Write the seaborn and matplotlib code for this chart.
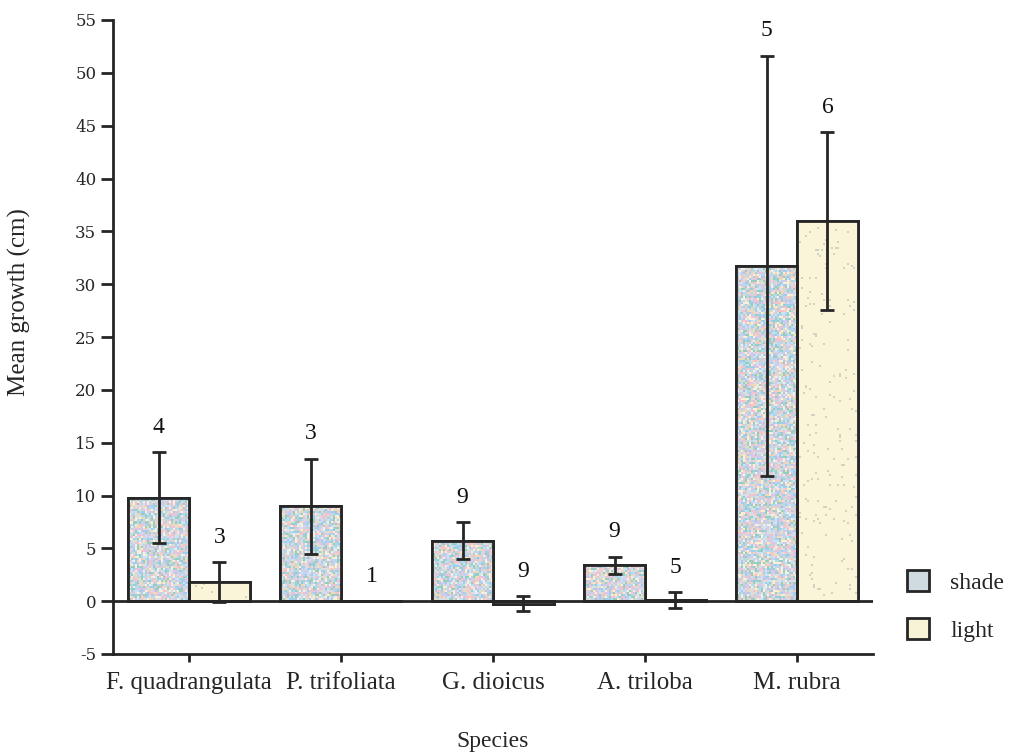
import numpy as np
import pandas as pd
import matplotlib
matplotlib.use("Agg")
import matplotlib.pyplot as plt
import seaborn as sns
from matplotlib.patches import Rectangle, Patch

species = ["F. quadrangulata", "P. trifoliata", "G. dioicus", "A. triloba", "M. rubra"]
shade_mean = [9.8, 9.0, 5.7, 3.4, 31.7]
shade_se = [4.3, 4.5, 1.75, 0.8, 19.9]
shade_n = [4, 3, 9, 9, 5]
light_mean = [1.8, 0.0, -0.25, 0.1, 36.0]
light_se = [1.9, np.nan, 0.7, 0.75, 8.4]
light_n = [3, 1, 9, 5, 6]
conditions = ["shade", "light"]

df = pd.DataFrame({
    "Species": species * 2,
    "Condition": ["shade"] * len(species) + ["light"] * len(species),
    "Mean": shade_mean + light_mean,
    "SE": shade_se + light_se,
    "N": shade_n + light_n,
})

ink = "#262626"
shade_col = "#cfdbe0"
light_col = "#f8f3d6"

sns.set_style("white")
plt.rcParams["font.family"] = ["Liberation Serif", "DejaVu Serif"]

fig = plt.figure(figsize=(10.13, 7.53), dpi=100)
ax = fig.add_axes([113 / 1013, 1 - 654 / 753, 760 / 1013, 634 / 753])

sns.barplot(data=df, x="Species", y="Mean", hue="Condition", order=species,
            hue_order=conditions, palette=[shade_col, light_col], errorbar=None,
            width=0.8, edgecolor=ink, linewidth=2, ax=ax, legend=False, zorder=2)

ax.set_xlim(-0.5, 4.5)
ax.set_ylim(-5, 55)

# speckled fill texture for each bar
rng = np.random.default_rng(7)
H, W = 317, 380
shade_palette = np.array([[160, 206, 236], [246, 192, 204], [148, 206, 190],
                          [250, 240, 218], [214, 200, 232], [206, 226, 244],
                          [236, 218, 186], [182, 218, 236]]) / 255.0
shade_tex = shade_palette[rng.integers(0, len(shade_palette), size=(H, W))]
light_tex = np.ones((H, W, 3)) * np.array([250, 245, 216]) / 255.0
dots = rng.random((H, W)) < 0.035
light_tex[dots] = np.array([210, 210, 195]) / 255.0
textures = {"shade": shade_tex, "light": light_tex}

for cond, cont in zip(conditions, ax.containers):
    for bar in cont:
        img = ax.imshow(textures[cond], extent=(-0.5, 4.5, -5, 55), aspect="auto",
                        interpolation="nearest", zorder=2.1, origin="lower")
        img.set_clip_path(bar)
        ax.add_patch(Rectangle((bar.get_x(), bar.get_y()), bar.get_width(),
                               bar.get_height(), fill=False, edgecolor=ink,
                               linewidth=2, zorder=2.2))

ax.axhline(0, color=ink, linewidth=2, zorder=2.3)

# standard-error bars and sample sizes
for cond, cont in zip(conditions, ax.containers):
    sub = df[df["Condition"] == cond].set_index("Species").loc[species]
    for bar, (_, row) in zip(cont, sub.iterrows()):
        xc = bar.get_x() + bar.get_width() / 2
        top = row["Mean"]
        if not np.isnan(row["SE"]):
            ax.errorbar(xc, row["Mean"], yerr=row["SE"], fmt="none", ecolor=ink,
                        elinewidth=2, capsize=5, capthick=2, zorder=3)
            top = row["Mean"] + row["SE"]
        top = max(top, 0)
        ax.annotate(str(int(row["N"])), (xc, top), xytext=(0, 18),
                    textcoords="offset points", ha="center", va="center",
                    fontsize=17, color="#111111")

for side in ["top", "right"]:
    ax.spines[side].set_visible(False)
for side in ["left", "bottom"]:
    ax.spines[side].set_color(ink)
    ax.spines[side].set_linewidth(2)

ax.set_yticks(np.arange(-5, 56, 5))
ax.set_yticklabels([str(v) for v in range(-5, 56, 5)], fontfamily="DejaVu Serif",
                   fontsize=12)
ax.tick_params(axis="y", direction="out", length=9, width=2, color=ink, pad=3, left=True)
ax.tick_params(axis="x", direction="out", length=6, width=2, color=ink, pad=7,
               labelsize=18, bottom=True)

ax.set_xlabel("Species", fontsize=17)
ax.set_ylabel("Mean growth (cm)", fontsize=18)
ax.xaxis.set_label_coords(0.5, -0.122)
ax.yaxis.set_label_coords(-0.108, 0.555)

handles = [Patch(facecolor=shade_col, edgecolor=ink, linewidth=2),
           Patch(facecolor=light_col, edgecolor=ink, linewidth=2)]
leg = fig.legend(handles, conditions, loc="center left",
                 bbox_to_anchor=(895 / 1013, 1 - 606 / 753), frameon=False,
                 fontsize=17, handlelength=0.95, handleheight=0.95,
                 labelspacing=1.05, handletextpad=0.9, borderpad=0)

fig.savefig("out.png", dpi=100, facecolor="white")
